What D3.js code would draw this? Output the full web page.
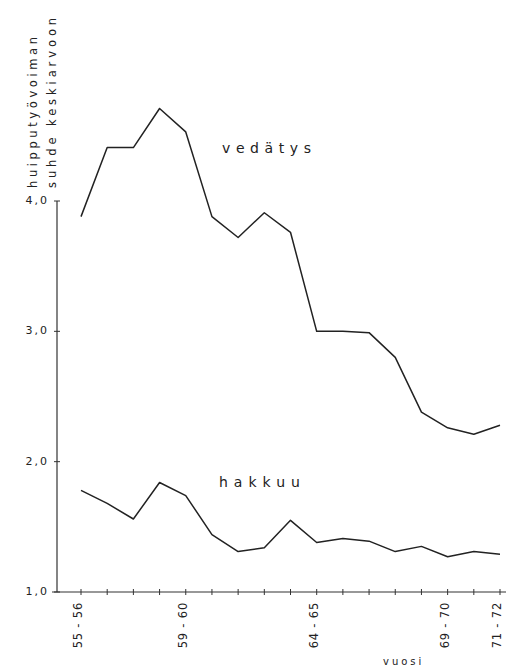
<!DOCTYPE html>
<html>
<head>
<meta charset="utf-8">
<script src="https://cdn.jsdelivr.net/npm/d3@7"></script>
<style>
  body { margin: 0; background: #fff; }
  text { font-family: "DejaVu Sans", sans-serif; fill: #222; }
</style>
</head>
<body>
<svg id="chart" width="506" height="667"></svg>
<script>
// seasons on the x axis
var years = ["55-56","56-57","57-58","58-59","59-60","60-61","61-62","62-63","63-64",
             "64-65","65-66","66-67","67-68","68-69","69-70","70-71","71-72"];
// huipputyövoiman suhde keskiarvoon
var vedatys = [3.88,4.41,4.41,4.71,4.53,3.88,3.72,3.91,3.76,3.00,3.00,2.99,2.80,2.38,2.26,2.21,2.28];
var hakkuu  = [1.78,1.68,1.56,1.84,1.74,1.44,1.31,1.34,1.55,1.38,1.41,1.39,1.31,1.35,1.27,1.31,1.29];

var labelYears = ["55-56","59-60","64-65","69-70","71-72"];
var labelTexts = ["55 - 56","59 - 60","64 - 65","69 - 70","71 - 72"];
var yTicks = [1,2,3,4];
var yTickLabels = ["1,0","2,0","3,0","4,0"];

var svg = d3.select("#chart");

var x = d3.scalePoint().domain(years).range([81, 500]);
var y = d3.scaleLinear().domain([1, 4]).range([592, 201]);

var axisX = 57;

// y axis
svg.append("line")
  .attr("x1", axisX).attr("x2", axisX)
  .attr("y1", y(4)).attr("y2", y(1))
  .attr("stroke", "#333").attr("stroke-width", 1.2);

svg.selectAll(".ytick")
  .data(yTicks)
  .enter().append("line")
  .attr("class", "ytick")
  .attr("x1", axisX - 3).attr("x2", axisX + 3)
  .attr("y1", function(d) { return y(d); })
  .attr("y2", function(d) { return y(d); })
  .attr("stroke", "#333").attr("stroke-width", 1);

svg.selectAll(".ylab")
  .data(yTicks)
  .enter().append("text")
  .attr("class", "ylab")
  .attr("x", axisX - 8)
  .attr("y", function(d) { return y(d) - 1; })
  .attr("dy", "0.35em")
  .attr("text-anchor", "end")
  .attr("font-size", 11)
  .attr("letter-spacing", 2)
  .text(function(d, i) { return yTickLabels[i]; });

// y title, two rotated lines
svg.append("text")
  .attr("transform", "translate(37,188) rotate(-90)")
  .attr("font-size", 11.5)
  .attr("letter-spacing", 3.6)
  .text("huipputyövoiman");
svg.append("text")
  .attr("transform", "translate(56,188) rotate(-90)")
  .attr("font-size", 11.5)
  .attr("letter-spacing", 3.9)
  .text("suhde keskiarvoon");

// x axis
svg.append("line")
  .attr("x1", 52).attr("x2", 506)
  .attr("y1", y(1)).attr("y2", y(1))
  .attr("stroke", "#333").attr("stroke-width", 1.2);

svg.selectAll(".xtick")
  .data(years)
  .enter().append("line")
  .attr("class", "xtick")
  .attr("x1", function(d) { return x(d); })
  .attr("x2", function(d) { return x(d); })
  .attr("y1", y(1) - 3).attr("y2", y(1) + 3)
  .attr("stroke", "#333").attr("stroke-width", 1);

svg.selectAll(".xlab")
  .data(labelYears)
  .enter().append("text")
  .attr("class", "xlab")
  .attr("transform", function(d) { return "translate(" + (x(d) + 1) + ",602) rotate(-90)"; })
  .attr("text-anchor", "end")
  .attr("font-size", 11.5)
  .attr("letter-spacing", 0.8)
  .text(function(d, i) { return labelTexts[i]; });

svg.append("text")
  .attr("x", 383).attr("y", 665)
  .attr("font-size", 10)
  .attr("letter-spacing", 3)
  .text("vuosi");

// lines
var line = d3.line()
  .x(function(d, i) { return x(years[i]); })
  .y(function(d) { return y(d); });

[vedatys, hakkuu].forEach(function(s) {
  svg.append("path")
    .datum(s)
    .attr("d", line)
    .attr("fill", "none")
    .attr("stroke", "#222")
    .attr("stroke-width", 1.5)
    .attr("stroke-linejoin", "round");
});

// series names
svg.append("text")
  .attr("x", 222).attr("y", 153)
  .attr("font-size", 14)
  .attr("letter-spacing", 5.6)
  .text("vedätys");
svg.append("text")
  .attr("x", 219).attr("y", 487)
  .attr("font-size", 14)
  .attr("letter-spacing", 6)
  .text("hakkuu");
</script>
</body>
</html>
